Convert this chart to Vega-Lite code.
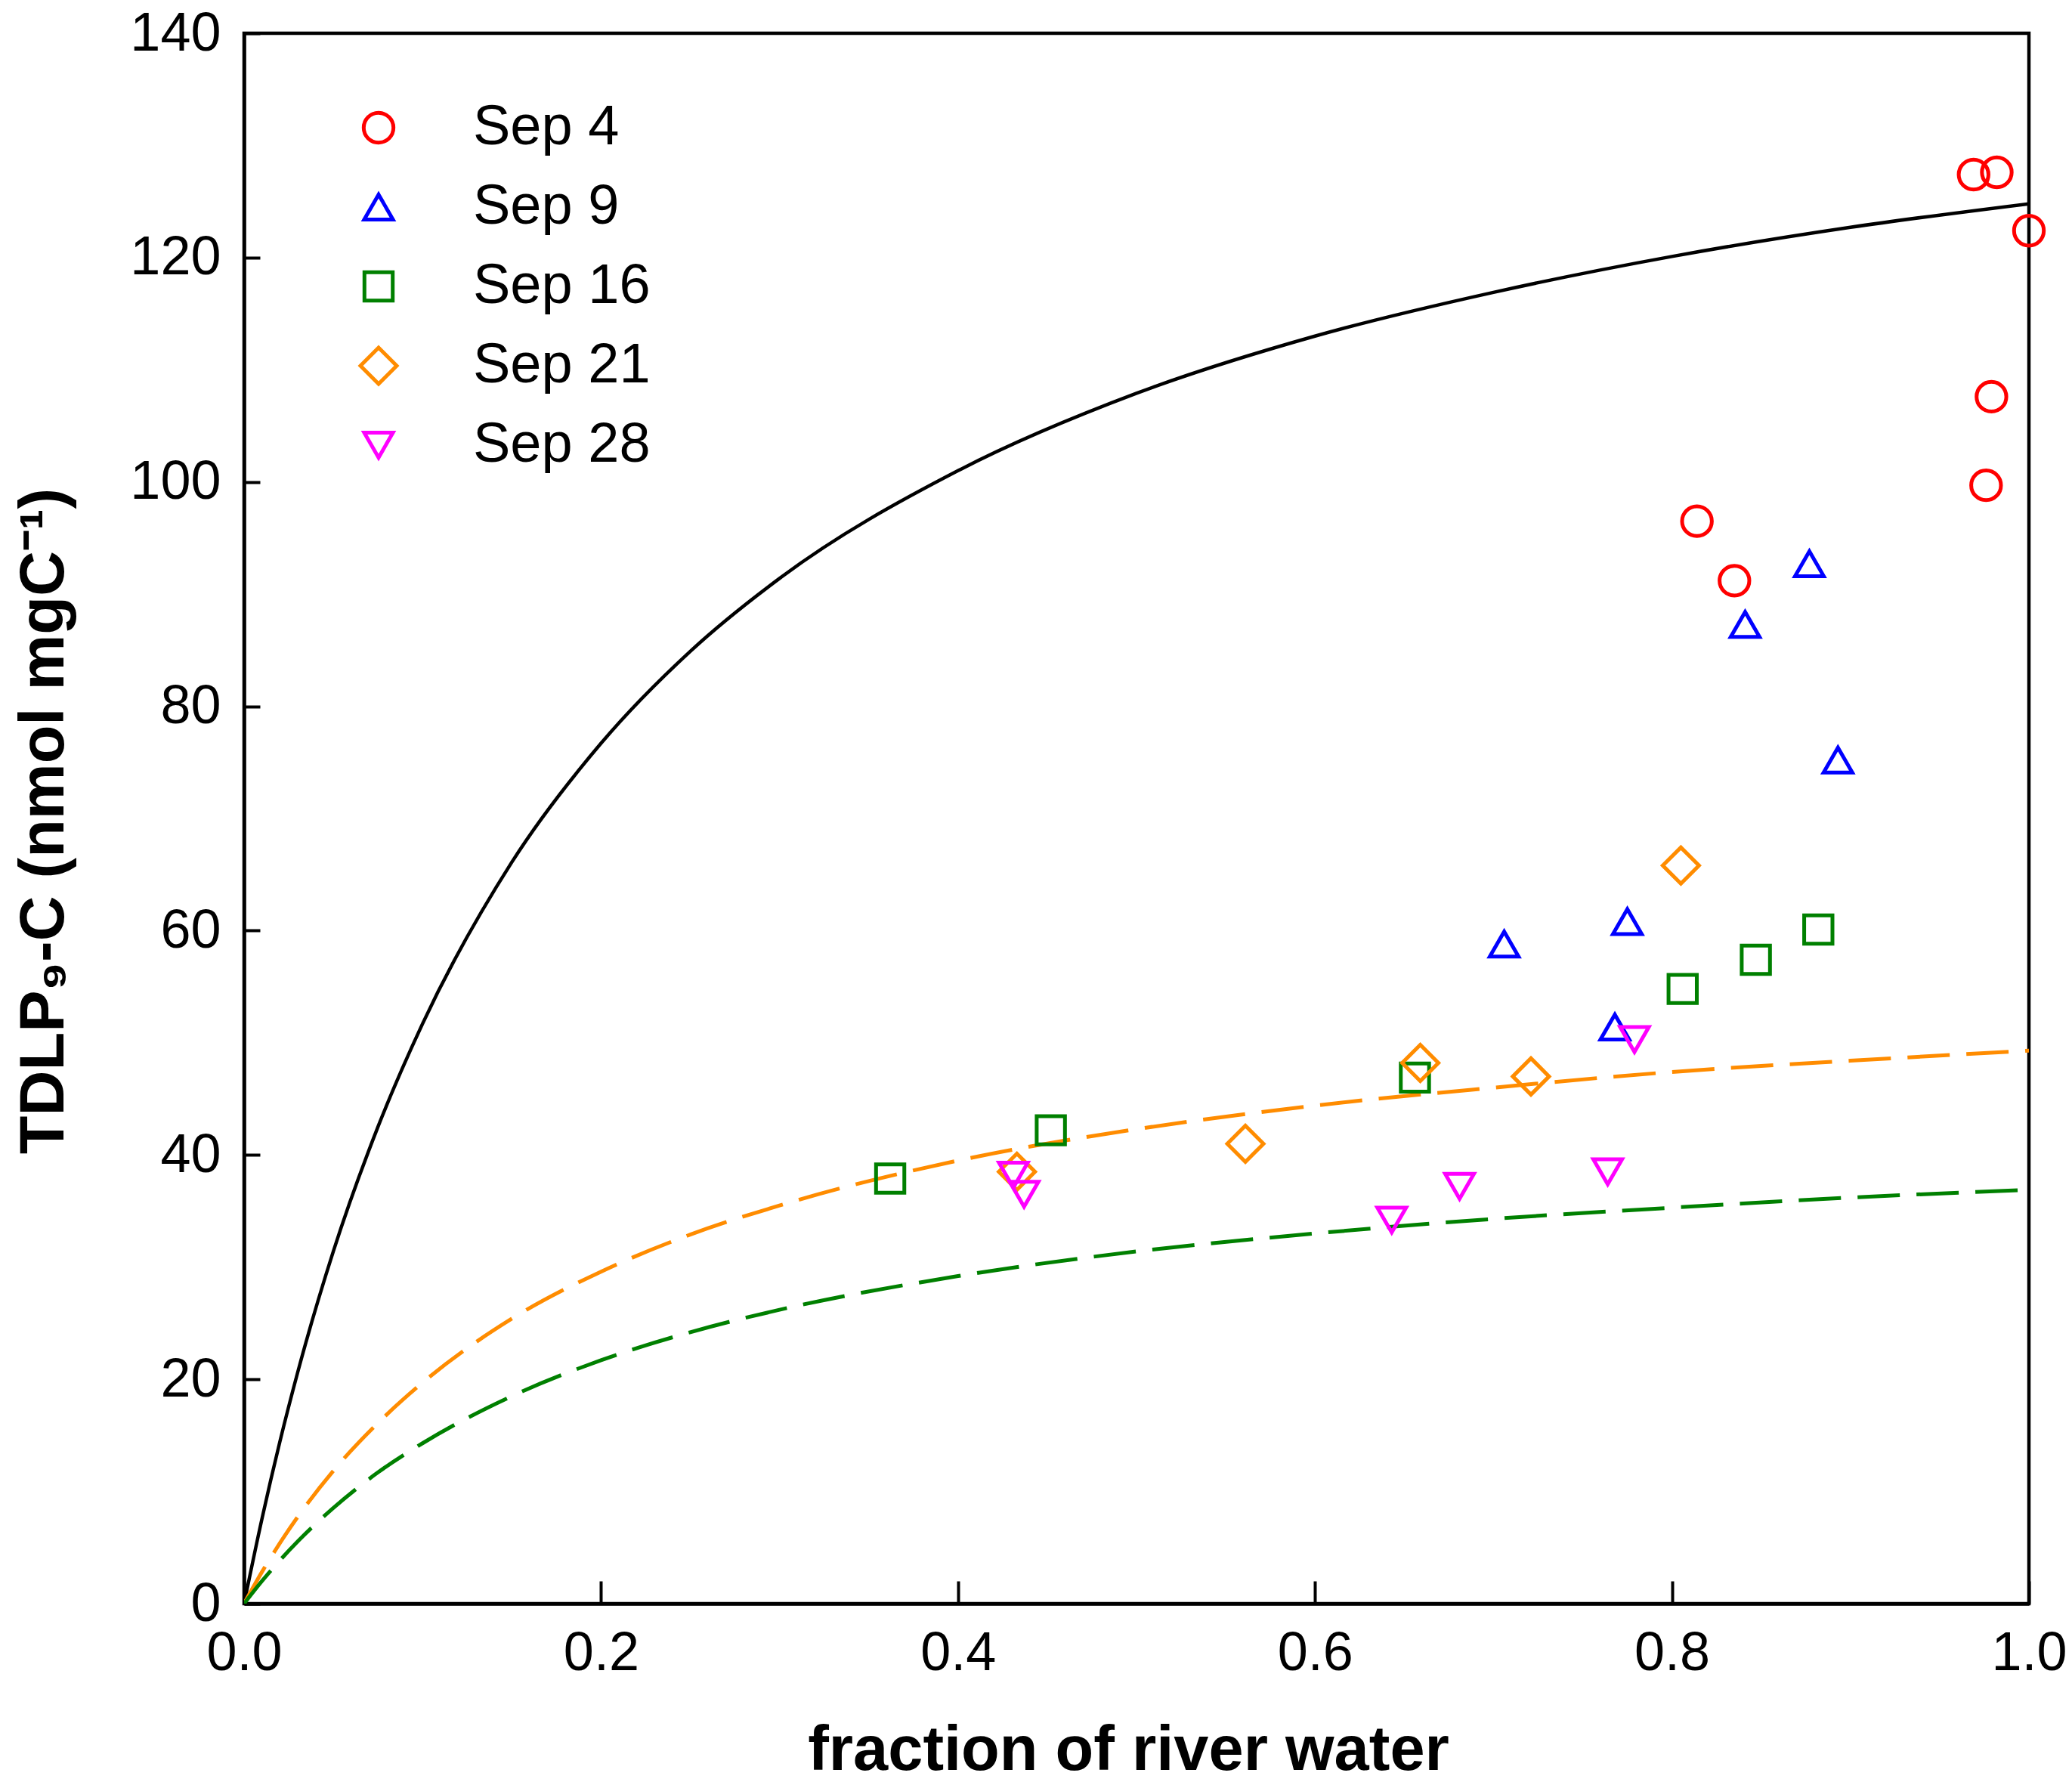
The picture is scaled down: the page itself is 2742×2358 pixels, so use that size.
{
  "$schema": "https://vega.github.io/schema/vega-lite/v6.json",
  "width": 2362,
  "height": 2078,
  "autosize": {"type": "none"},
  "padding": {"left": 323, "top": 44, "right": 57, "bottom": 236},
  "background": "white",
  "config": {
    "view": {"stroke": "black", "strokeWidth": 4.5},
    "axis": {
      "grid": false,
      "domainColor": "black",
      "domainWidth": 4.5,
      "tickColor": "black",
      "tickWidth": 4,
      "labelFlush": false,
      "labelFont": "Liberation Sans",
      "labelFontSize": 72,
      "labelColor": "black",
      "titleFont": "Liberation Sans",
      "titleFontSize": 83,
      "titleFontWeight": "bold",
      "titleColor": "black"
    }
  },
  "datasets": {
    "points": [
      {"date": "Sep 4", "x": 0.969, "y": 127.4},
      {"date": "Sep 4", "x": 0.982, "y": 127.6},
      {"date": "Sep 4", "x": 1.0, "y": 122.4},
      {"date": "Sep 4", "x": 0.979, "y": 107.6},
      {"date": "Sep 4", "x": 0.976, "y": 99.7},
      {"date": "Sep 4", "x": 0.814, "y": 96.5},
      {"date": "Sep 4", "x": 0.835, "y": 91.2},
      {"date": "Sep 9", "x": 0.877, "y": 92.7},
      {"date": "Sep 9", "x": 0.841, "y": 87.3},
      {"date": "Sep 9", "x": 0.893, "y": 75.2},
      {"date": "Sep 9", "x": 0.706, "y": 58.8},
      {"date": "Sep 9", "x": 0.775, "y": 60.8},
      {"date": "Sep 9", "x": 0.768, "y": 51.4},
      {"date": "Sep 16", "x": 0.362, "y": 37.9},
      {"date": "Sep 16", "x": 0.452, "y": 42.2},
      {"date": "Sep 16", "x": 0.656, "y": 46.9},
      {"date": "Sep 16", "x": 0.806, "y": 54.8},
      {"date": "Sep 16", "x": 0.847, "y": 57.4},
      {"date": "Sep 16", "x": 0.882, "y": 60.1},
      {"date": "Sep 21", "x": 0.433, "y": 38.5},
      {"date": "Sep 21", "x": 0.561, "y": 41.0},
      {"date": "Sep 21", "x": 0.659, "y": 48.2},
      {"date": "Sep 21", "x": 0.721, "y": 47.0},
      {"date": "Sep 21", "x": 0.805, "y": 65.8},
      {"date": "Sep 28", "x": 0.431, "y": 38.2},
      {"date": "Sep 28", "x": 0.437, "y": 36.5},
      {"date": "Sep 28", "x": 0.643, "y": 34.2},
      {"date": "Sep 28", "x": 0.681, "y": 37.2},
      {"date": "Sep 28", "x": 0.764, "y": 38.5},
      {"date": "Sep 28", "x": 0.779, "y": 50.3}
    ],
    "curves": [
      {"curve": "black", "x": 0, "y": 0},
      {"curve": "black", "x": 0.01, "y": 7.55},
      {"curve": "black", "x": 0.02, "y": 14.4},
      {"curve": "black", "x": 0.03, "y": 20.6},
      {"curve": "black", "x": 0.05, "y": 31.4},
      {"curve": "black", "x": 0.075, "y": 42.5},
      {"curve": "black", "x": 0.1, "y": 51.7},
      {"curve": "black", "x": 0.15, "y": 66.1},
      {"curve": "black", "x": 0.2, "y": 76.7},
      {"curve": "black", "x": 0.25, "y": 84.9},
      {"curve": "black", "x": 0.3, "y": 91.4},
      {"curve": "black", "x": 0.4, "y": 101.0},
      {"curve": "black", "x": 0.5, "y": 107.9},
      {"curve": "black", "x": 0.6, "y": 113.0},
      {"curve": "black", "x": 0.7, "y": 116.9},
      {"curve": "black", "x": 0.8, "y": 120.1},
      {"curve": "black", "x": 0.9, "y": 122.7},
      {"curve": "black", "x": 1.0, "y": 124.8},
      {"curve": "orange", "x": 0, "y": 0},
      {"curve": "orange", "x": 0.01, "y": 2.82},
      {"curve": "orange", "x": 0.02, "y": 5.38},
      {"curve": "orange", "x": 0.03, "y": 7.72},
      {"curve": "orange", "x": 0.05, "y": 11.84},
      {"curve": "orange", "x": 0.075, "y": 16.1},
      {"curve": "orange", "x": 0.1, "y": 19.7},
      {"curve": "orange", "x": 0.15, "y": 25.4},
      {"curve": "orange", "x": 0.2, "y": 29.6},
      {"curve": "orange", "x": 0.25, "y": 32.9},
      {"curve": "orange", "x": 0.3, "y": 35.5},
      {"curve": "orange", "x": 0.4, "y": 39.5},
      {"curve": "orange", "x": 0.5, "y": 42.3},
      {"curve": "orange", "x": 0.6, "y": 44.4},
      {"curve": "orange", "x": 0.7, "y": 46.0},
      {"curve": "orange", "x": 0.8, "y": 47.4},
      {"curve": "orange", "x": 0.9, "y": 48.4},
      {"curve": "orange", "x": 1.0, "y": 49.3},
      {"curve": "green", "x": 0, "y": 0},
      {"curve": "green", "x": 0.01, "y": 2.01},
      {"curve": "green", "x": 0.02, "y": 3.85},
      {"curve": "green", "x": 0.03, "y": 5.54},
      {"curve": "green", "x": 0.05, "y": 8.53},
      {"curve": "green", "x": 0.075, "y": 11.7},
      {"curve": "green", "x": 0.1, "y": 14.3},
      {"curve": "green", "x": 0.15, "y": 18.5},
      {"curve": "green", "x": 0.2, "y": 21.7},
      {"curve": "green", "x": 0.25, "y": 24.2},
      {"curve": "green", "x": 0.3, "y": 26.2},
      {"curve": "green", "x": 0.4, "y": 29.2},
      {"curve": "green", "x": 0.5, "y": 31.4},
      {"curve": "green", "x": 0.6, "y": 33.0},
      {"curve": "green", "x": 0.7, "y": 34.3},
      {"curve": "green", "x": 0.8, "y": 35.3},
      {"curve": "green", "x": 0.9, "y": 36.2},
      {"curve": "green", "x": 1.0, "y": 36.9}
    ]
  },
  "layer": [
    {
      "data": {"name": "curves"},
      "transform": [{"filter": "datum.curve === 'black'"}],
      "mark": {"type": "line", "color": "black", "strokeWidth": 4.5, "interpolate": "monotone", "clip": true},
      "encoding": {
        "x": {"field": "x", "type": "quantitative"},
        "y": {"field": "y", "type": "quantitative"}
      }
    },
    {
      "data": {"name": "curves"},
      "transform": [{"filter": "datum.curve === 'orange'"}],
      "mark": {"type": "line", "color": "#FF8C00", "strokeWidth": 5, "strokeDash": [56, 22], "interpolate": "monotone", "clip": true},
      "encoding": {
        "x": {"field": "x", "type": "quantitative"},
        "y": {"field": "y", "type": "quantitative"}
      }
    },
    {
      "data": {"name": "curves"},
      "transform": [{"filter": "datum.curve === 'green'"}],
      "mark": {"type": "line", "color": "#008000", "strokeWidth": 5, "strokeDash": [56, 22], "interpolate": "monotone", "clip": true},
      "encoding": {
        "x": {"field": "x", "type": "quantitative"},
        "y": {"field": "y", "type": "quantitative"}
      }
    },
    {
      "data": {"name": "points"},
      "mark": {"type": "point", "filled": false, "strokeWidth": 5, "opacity": 1},
      "encoding": {
        "x": {
          "field": "x", "type": "quantitative",
          "scale": {"domain": [0, 1], "nice": false, "zero": false},
          "axis": {"values": [0, 0.2, 0.4, 0.6, 0.8, 1.0], "format": ".1f", "tickSize": -30, "labelPadding": 60,
                   "title": "fraction of river water", "titleX": 1170, "titleY": 219, "titleBaseline": "alphabetic", "titleAlign": "center"}
        },
        "y": {
          "field": "y", "type": "quantitative",
          "scale": {"domain": [0, 140], "nice": false},
          "axis": {"values": [0, 20, 40, 60, 80, 100, 120, 140], "tickSize": -21, "labelPadding": 52,
                   "title": "TDLP₉-C (nmol mgC⁻¹)", "titleX": -240, "titleY": 1042, "titleAngle": -90, "titleBaseline": "alphabetic", "titleAlign": "center"}
        },
        "color": {
          "field": "date", "type": "nominal",
          "scale": {"domain": ["Sep 4", "Sep 9", "Sep 16", "Sep 21", "Sep 28"], "range": ["#FF0000", "#0000FF", "#008000", "#FF8C00", "#FF00FF"]},
          "legend": {
            "title": null, "orient": "none", "legendX": 141, "legendY": 88,
            "symbolStrokeWidth": 5,
            "labelFont": "Liberation Sans", "labelFontSize": 74, "labelColor": "black", "labelLimit": 0,
            "labelOffset": 88, "rowPadding": 31, "padding": 0
          }
        },
        "shape": {
          "field": "date", "type": "nominal",
          "scale": {"domain": ["Sep 4", "Sep 9", "Sep 16", "Sep 21", "Sep 28"], "range": ["circle", "triangle-up", "square", "diamond", "triangle-down"]},
          "legend": null
        },
        "size": {
          "field": "date", "type": "nominal",
          "scale": {"type": "ordinal", "domain": ["Sep 4", "Sep 9", "Sep 16", "Sep 21", "Sep 28"], "range": [1550, 1450, 1400, 2300, 1450]},
          "legend": null
        }
      }
    }
  ]
}
